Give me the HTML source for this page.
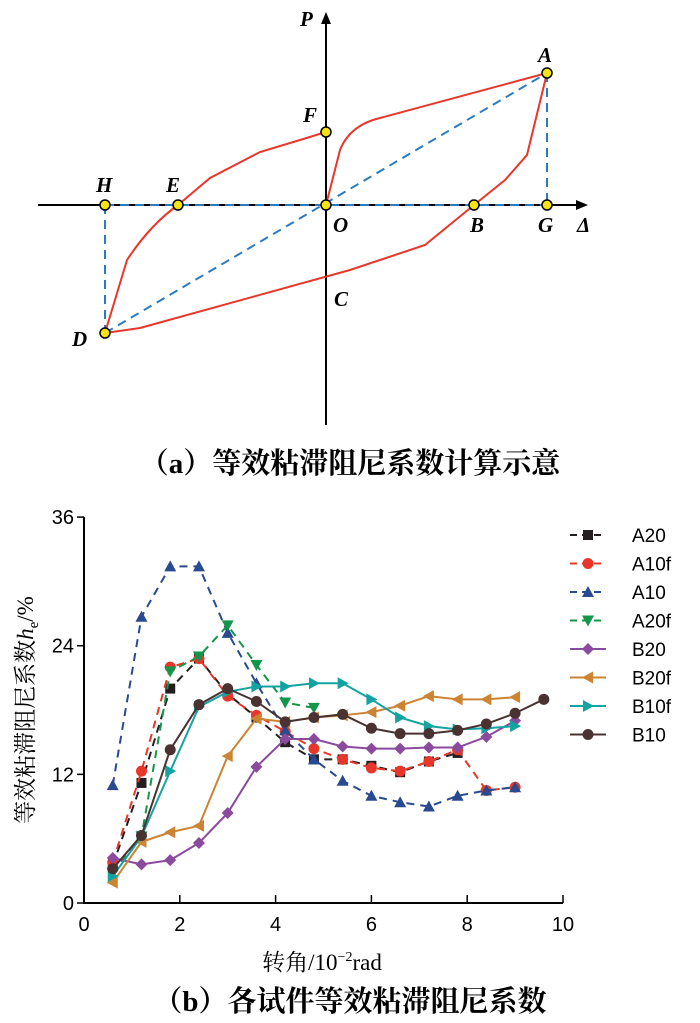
<!DOCTYPE html>
<html><head><meta charset="utf-8"><style>
body{margin:0;background:#fff;width:700px;height:1023px;overflow:hidden;font-family:"Liberation Serif","Noto Serif CJK SC",serif}
svg{position:absolute;left:0;top:0}
</style></head><body>
<svg width="700" height="1023" font-family="Liberation Serif, Noto Serif CJK SC, serif">
<g>
 <line x1="38" y1="205" x2="580" y2="205" stroke="#000" stroke-width="2"/>
 <polygon points="588,205 576,200 576,210" fill="#000"/>
 <line x1="326" y1="425" x2="326" y2="22" stroke="#000" stroke-width="2"/>
 <polygon points="326,12 321,24 331,24" fill="#000"/>
 <g stroke="#2a7cbf" stroke-width="2" stroke-dasharray="9,6" fill="none">
  <line x1="105" y1="333" x2="547" y2="73"/>
  <line x1="105" y1="205" x2="105" y2="333"/>
  <line x1="547" y1="73" x2="547" y2="205"/>
  <line x1="105" y1="205" x2="547" y2="205"/>
 </g>
 <g stroke="#e8372a" stroke-width="2" fill="none">
  <path d="M105,333 L127,260 Q150,225 178,205 L210,178 L260,152 L300,140 L326,132"/>
  <path d="M326,205 L340,150 Q350,125 380,118 L547,73"/>
  <path d="M547,73 L527,155 L505,180 L474,205 L425,245 L350,270 L140,328 L105,333"/>
 </g>
 <g fill="#f5e313" stroke="#000" stroke-width="1.5">
  <circle cx="547" cy="73" r="5"/><circle cx="326" cy="132" r="5"/><circle cx="105" cy="205" r="5"/>
  <circle cx="178" cy="205" r="5"/><circle cx="326" cy="205" r="5"/><circle cx="474" cy="205" r="5"/>
  <circle cx="547" cy="205" r="5"/><circle cx="105" cy="333" r="5"/>
 </g>
 <g font-size="21" font-style="italic" font-weight="bold" fill="#000">
  <text x="300" y="26">P</text><text x="538" y="62">A</text><text x="303" y="122">F</text>
  <text x="96" y="192">H</text><text x="166" y="192">E</text><text x="333" y="232">O</text>
  <text x="470" y="232">B</text><text x="538" y="232">G</text><text x="577" y="232">Δ</text>
  <text x="334" y="306">C</text><text x="72" y="346">D</text>
 </g>
 <text x="350" y="473" font-size="29" font-weight="bold" text-anchor="middle">（a）等效粘滞阻尼系数计算示意</text>
</g>
<g id="chart"></g>
<text x="350" y="1011" font-size="29" font-weight="bold" text-anchor="middle">（b）各试件等效粘滞阻尼系数</text>
</svg>
<script>
const xs=[0.6,1.2,1.8,2.4,3.0,3.6,4.2,4.8,5.4,6.0,6.6,7.2,7.8,8.4,9.0,9.6];
const names=["A20","A10f","A10","A20f","B20","B20f","B10f","B10"];
const A20=[3.5,11.2,20,22.8,19.5,17.3,15,13.4,13.4,12.8,12.2,13.2,14];
const A10f=[3.8,12.3,22,22.8,19.3,17.5,16,14.4,13.4,12.6,12.3,13.2,14.3,10.5,10.8];
const A10=[11,26.7,31.4,31.4,25.2,20.5,16.1,13.4,11.4,10,9.4,9.0,10,10.5,10.8];
const A20f=[2.8,6.2,21.6,23,25.9,22.2,18.7,18.2];
const B20=[4.2,3.6,4.0,5.6,8.4,12.7,15.3,15.3,14.6,14.4,14.4,14.5,14.5,15.5,17];
const B20f=[1.9,5.7,6.6,7.2,13.7,17.2,16.9,17.3,17.5,17.8,18.4,19.3,19,19,19.2];
const B10f=[2.5,6.2,12.3,18.3,19.7,20.2,20.2,20.5,20.5,19,17.3,16.5,16.2,16.3,16.5];
const B10=[3.2,6.3,14.3,18.5,20,18.8,16.9,17.3,17.6,16.3,15.8,15.8,16.1,16.7,17.7,19];
const xTicks=[0,2,4,6,8,10];
const yTicks=[0,12,24,36];
const series=[A20,A10f,A10,A20f,B20,B20f,B10f,B10];
const colors=["#231f20","#e8372a","#2a4a8f","#14964a","#8a4a9e","#cc8433","#14a3a0","#4a3232"];
const dashed=[1,1,1,1,0,0,0,0];
const marks=["sq","ci","tu","td","di","tl","tr","ci"];
const X=v=>84+v*47.9, Y=v=>903-v*10.72;
const NS="http://www.w3.org/2000/svg", g=document.getElementById('chart');
function mk(t,a,p){const e=document.createElementNS(NS,t);for(const k in a)e.setAttribute(k,a[k]);(p||g).appendChild(e);return e;}
let ax=mk('path',{d:`M${X(0)},${Y(36)} L${X(0)},${Y(0)} L${X(10)},${Y(0)}`,stroke:'#000','stroke-width':2,fill:'none'});


xTicks.forEach(t=>{mk('line',{x1:X(t),x2:X(t),y1:Y(0),y2:Y(0)-8,stroke:'#000','stroke-width':1.5});
 const tx=mk('text',{x:X(t),y:Y(0)+28,'font-size':20,'text-anchor':'middle','font-family':'Liberation Sans, sans-serif'});tx.textContent=t;
 
 });
yTicks.forEach(t=>{mk('line',{x1:X(0),x2:X(0)-7,y1:Y(t),y2:Y(t),stroke:'#000','stroke-width':1.5});
 const tx=mk('text',{x:X(0)-10,y:Y(t)+7,'font-size':20,'text-anchor':'end','font-family':'Liberation Sans, sans-serif'});tx.textContent=t;
 
 });
const xl=mk('text',{x:322,y:970,'font-size':23,'text-anchor':'middle'});xl.innerHTML='转角/10<tspan font-size="14" dy="-9">−2</tspan><tspan dy="9">rad</tspan>';


const yl=mk('text',{transform:'translate(33,710) rotate(-90)','font-size':23,'text-anchor':'middle'});yl.innerHTML='等效粘滞阻尼系数<tspan font-style="italic">h</tspan><tspan font-size="15" dy="5">e</tspan><tspan dy="-5">/%</tspan>';


function marker(m,x,y,c,p){const s=5;let e;
 if(m=="sq")e=mk('rect',{x:x-s,y:y-s,width:2*s,height:2*s,fill:c},p);
 else if(m=="ci")e=mk('circle',{cx:x,cy:y,r:s+0.5,fill:c},p);
 else{const pts={tu:[[0,-6],[-6,5],[6,5]],td:[[0,6],[-6,-5],[6,-5]],di:[[0,-6],[6,0],[0,6],[-6,0]],tl:[[-6,0],[5,-6],[5,6]],tr:[[6,0],[-5,-6],[-5,6]]}[m];
  e=mk('polygon',{points:pts.map(q=>(x+q[0])+','+(y+q[1])).join(' '),fill:c},p);}
 return e;}
series.forEach((d,i)=>{const sg=mk('g',{});
 
 
 mk('polyline',{points:d.map((v,j)=>X(xs[j])+','+Y(v)).join(' '),fill:'none',stroke:colors[i],'stroke-width':2,'stroke-dasharray':dashed[i]?'8,6':'none'},sg);
 d.forEach((v,j)=>{const e=marker(marks[i],X(xs[j]),Y(v),colors[i],sg);
  
  });
 const ly=535+i*28.5;const lg=mk('g',{});
 
 
 mk('line',{x1:570,x2:606,y1:ly,y2:ly,stroke:colors[i],'stroke-width':2,'stroke-dasharray':dashed[i]?'7,5':'none'},lg);
 marker(marks[i],588,ly,colors[i],lg);
 const t=mk('text',{x:632,y:ly+7,'font-size':19,'font-family':'Liberation Sans, sans-serif'},lg);t.textContent=names[i];});
</script>
</body></html>
